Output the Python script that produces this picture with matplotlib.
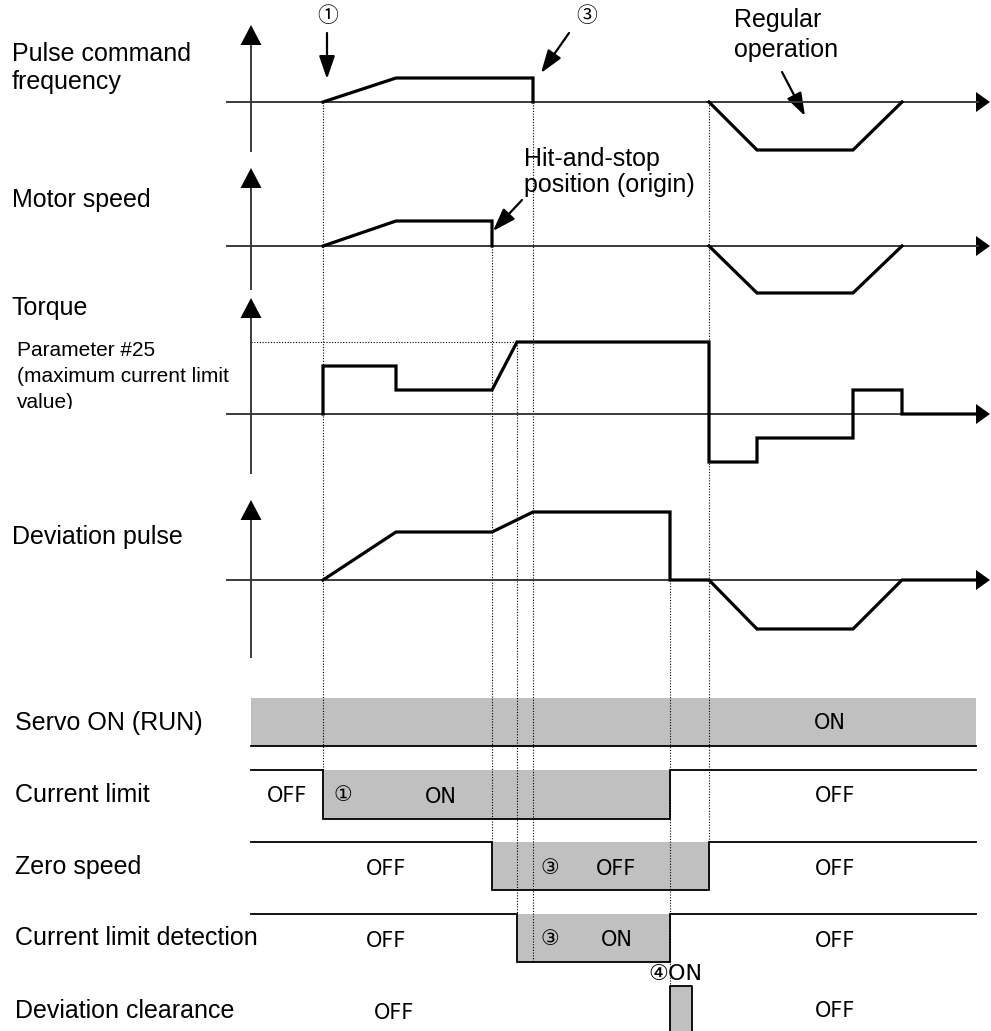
import numpy as np
import matplotlib
matplotlib.use("Agg")
from matplotlib import pyplot as plt
from matplotlib.patches import Polygon, Rectangle

plt.rcParams['font.family'] = ['Liberation Sans', 'DejaVu Sans']

# event times along the shared time axis
T_START = 323    # (1) pulse command starts
T_RAMP = 396     # acceleration ends
T_HIT = 492      # hit-and-stop position
T_LIMIT = 517    # torque reaches current limit
T_CMD_END = 533  # (3) pulse command ends
T_CLEAR = 670    # (4) deviation clearance
T_CLEAR_END = 692
T_RUN = 709      # regular operation starts
T_DEC = 757
T_FLAT_END = 853
T_STOP = 902
T_AXIS_END = 978
nan = np.nan

# analog waveforms (levels above each panel's zero line)
pulse_t = [T_START, T_RAMP, T_CMD_END, T_CMD_END, nan, T_RUN, T_DEC, T_FLAT_END, T_STOP]
pulse_v = [0, 24, 24, 0, nan, 0, -48, -48, 0]
motor_t = [T_START, T_RAMP, T_HIT, T_HIT, nan, T_RUN, T_DEC, T_FLAT_END, T_STOP]
motor_v = [0, 25, 25, 0, nan, 0, -47, -47, 0]
torque_t = [T_START, T_START, T_RAMP, T_RAMP, T_HIT, T_LIMIT, T_RUN, T_RUN,
            T_DEC, T_DEC, T_FLAT_END, T_FLAT_END, T_STOP, T_STOP, T_AXIS_END]
torque_v = [0, 48, 48, 24, 24, 72, 72, -48, -48, -24, -24, 24, 24, 0, 0]
torque_limit = 72
dev_t = [T_START, T_RAMP, T_HIT, T_CMD_END, T_CLEAR, T_CLEAR, T_RUN, T_DEC,
         T_FLAT_END, T_STOP, T_AXIS_END]
dev_v = [0, 48, 48, 68, 68, 0, 0, -49, -49, 0, 0]

analog_labels = ["Pulse command\nfrequency", "Motor speed", "Torque", "Deviation pulse"]

# digital signals: (label, gray interval)
digital_labels = ["Servo ON (RUN)", "Current limit", "Zero speed",
                  "Current limit detection", "Deviation clearance"]
digital_on = [(251, 976), (T_START, T_CLEAR), (T_HIT, T_RUN),
              (T_LIMIT, T_CLEAR), (T_CLEAR, T_CLEAR_END)]

# layout (pixel space of the figure)
W, H = 991, 1031
AX_X = 251
BASE_X0 = 227
panels = [  # zero line, axis top (arrow tip), axis bottom, label y
    dict(zero=102, top=25, bottom=151, label_y=68),
    dict(zero=246, top=168, bottom=289, label_y=200),
    dict(zero=414, top=298, bottom=473, label_y=308),
    dict(zero=580, top=500, bottom=657, label_y=537),
]
rows = [  # top, bottom, label y
    (698, 746, 723), (770, 819, 795), (842, 890, 867), (914, 962, 938), (986, 1040, 1011),
]
GRAY = "#c0c0c0"
AXGRAY = "#3a3a3a"

fig = plt.figure(figsize=(W / 100, H / 100), dpi=100)
ax = fig.add_axes([0, 0, 1, 1])
ax.set_xlim(0, W)
ax.set_ylim(H, 0)
ax.axis("off")


def arrow_up(x, tip):
    ax.add_patch(Polygon([(x, tip), (x - 10.5, tip + 20), (x + 10.5, tip + 20)],
                         closed=True, color="black", lw=0, zorder=4))


def arrow_right(tip, y):
    ax.add_patch(Polygon([(tip, y), (tip - 14, y - 10), (tip - 14, y + 10)],
                         closed=True, color="black", lw=0, zorder=4))


waves = [(pulse_t, pulse_v), (motor_t, motor_v), (torque_t, torque_v), (dev_t, dev_v)]
for p, (tt, vv), lab in zip(panels, waves, analog_labels):
    z = p["zero"]
    ax.plot([AX_X, AX_X], [p["top"] + 15, p["bottom"]], color=AXGRAY, lw=1.4, zorder=2)
    arrow_up(AX_X, p["top"])
    ax.plot([BASE_X0, T_AXIS_END], [z, z], color=AXGRAY, lw=1.4, zorder=6)
    arrow_right(W - 1, z)
    ax.plot(tt, z - np.array(vv, dtype=float), color="black", lw=2.3,
            solid_joinstyle="miter", zorder=7)
    ax.text(12, p["label_y"], lab, fontsize=18, va="center", ha="left", linespacing=1.25)

# torque limit dotted line and its note (last line is cut off in the original)
tz = panels[2]["zero"]
ax.plot([AX_X, T_LIMIT], [tz - torque_limit] * 2, color="black", lw=0.8,
        linestyle=(0, (1, 1.5)), zorder=1)
for i, s in enumerate(["Parameter #25", "(maximum current limit", "value)"]):
    ax.text(17, 350 + 26.5 * i, s, fontsize=15, va="center", ha="left", zorder=2)
ax.add_patch(Rectangle((0, 409), 120, 10, color="white", lw=0, zorder=5))

# dotted event lines
event_lines = [(T_START, 102, 770), (T_HIT, 246, 842), (T_LIMIT, 342, 914),
               (T_CMD_END, 102, 963), (T_CLEAR, 580, 986), (T_RUN, 102, 842)]
for x, y0, y1 in event_lines:
    ax.plot([x, x], [y0, y1], color="black", lw=0.8, linestyle=(0, (1, 1.5)), zorder=1)

# digital rows
for i, ((a, b), (top, bot, ly), lab) in enumerate(zip(digital_on, rows, digital_labels)):
    ax.add_patch(Rectangle((a, top), b - a, bot - top, color=GRAY, lw=0, zorder=0))
    if i == 0:
        ax.plot([AX_X, 976], [bot, bot], color="black", lw=1.3)
    elif i == 4:
        ax.plot([a, a, b, b], [H + 5, top, top, H + 5], color="black", lw=1.3)
    else:
        ax.plot([AX_X, a, a, b, b, 976], [top, top, bot, bot, top, top],
                color="black", lw=1.3, solid_joinstyle="miter")
    ax.text(15, ly, lab, fontsize=18, va="center", ha="left")

sym = ['DejaVu Sans', 'Noto Sans CJK JP']
row_texts = [
    (830, 723, "ON"),
    (287, 796, "OFF"), (343, 795, "①"), (441, 797, "ON"), (835, 796, "OFF"),
    (386, 869, "OFF"), (550, 868, "③"), (616, 869, "OFF"), (835, 869, "OFF"),
    (386, 941, "OFF"), (550, 939, "③"), (617, 940, "ON"), (835, 941, "OFF"),
    (394, 1013, "OFF"), (835, 1011, "OFF"),
]
for x, y, s in row_texts:
    ax.text(x, y, s, fontsize=15, ha="center", va="center", family=sym)
ax.text(675, 974, "④ON", fontsize=16, ha="center", va="center", family=sym)

# annotations on top
cjk = ['Noto Sans CJK JP', 'DejaVu Sans']
ax.text(328, 16, "①", fontsize=15, ha="center", va="center", family=cjk)
ax.text(587, 16, "③", fontsize=15, ha="center", va="center", family=cjk)
ax.text(734, 35, "Regular\noperation", fontsize=18, ha="left", va="center", linespacing=1.35)
ax.text(524, 172, "Hit-and-stop\nposition (origin)", fontsize=18, ha="left",
        va="center", linespacing=1.15)

aprops = dict(arrowstyle="-|>,head_length=0.7,head_width=0.24", color="black",
              lw=1.6, mutation_scale=20, shrinkA=0, shrinkB=0)
for tip, tail in [((327, 79), (327, 33)), ((541, 73), (569, 33)),
                  ((805, 116), (782, 72)), ((493, 231), (522, 200))]:
    ax.annotate("", xy=tip, xytext=tail, arrowprops=aprops)

fig.savefig("out.png", dpi=100)
